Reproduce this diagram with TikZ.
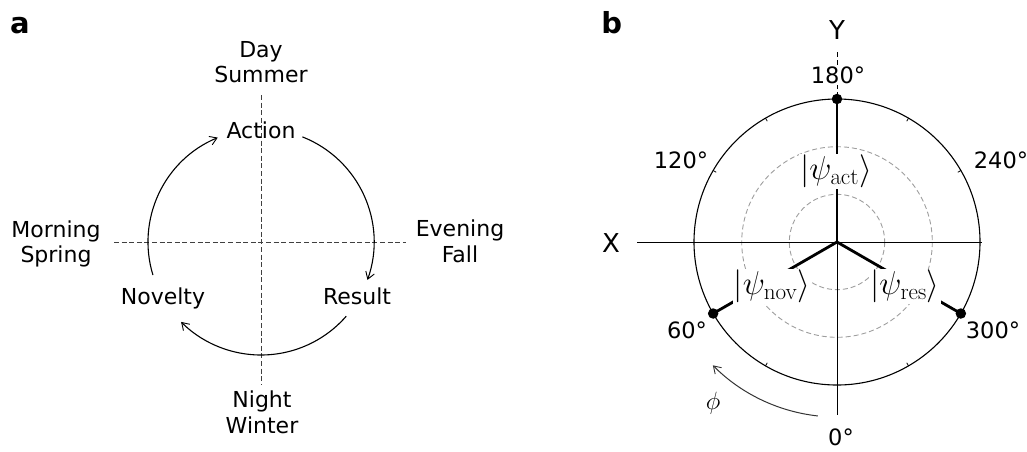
\RequirePackage{fix-cm}
\documentclass[tikz,border=0pt]{standalone}
\usepackage[no-math]{fontspec}
\setmainfont{DejaVu Sans}
\usetikzlibrary{arrows.meta,calc}
\begin{document}
\begin{tikzpicture}[x=1pt,y=-1pt,
  txt/.style={inner sep=0pt,font=\fontsize{22}{25.5}\selectfont},
  two/.style={txt,align=center},
  panel/.style={inner sep=0pt,anchor=base,font=\fontsize{29}{32}\bfseries\selectfont},
  axdash/.style={draw=black!75,line width=0.9pt,dash pattern=on 5pt off 2.6pt},
  cyc/.style={line width=1.1pt,-{Straight Barb[length=7pt,width=9pt,line width=0.9pt]}},
  grid/.style={draw=black!38,line width=0.9pt,dash pattern=on 5pt off 3pt},
  deg/.style={inner sep=0pt,anchor=base,font=\fontsize{22.5}{26}\selectfont},
  axl/.style={inner sep=0pt,anchor=base,font=\fontsize{26}{30}\selectfont},
  state/.style={fill=white,inner sep=1pt,font=\fontsize{33}{38}\selectfont},
  vec/.style={line width=2.8pt},
  dot/.style={circle,fill=black,inner sep=0pt,minimum size=10.5pt}]
\useasboundingbox (0,0) rectangle (1027,451);

% ---------- panel a ----------
\node[panel] (la) at (20,33) {a};
\coordinate (ca) at (261,242);
\draw[axdash] (261,95) -- (261,385);
\draw[axdash] (114,242) -- (406,242);
\node[two] (day) at (261,62) {Day\\Summer};
\node[two] (morn) at (56,244) {Morning\\Spring};
\node[two] (eve) at (460,241.5) {Evening\\Fall};
\node[two] (night) at (262,412.5) {Night\\Winter};
\node[txt,anchor=base] (act) at (261,138) {Action};
\node[txt,anchor=base] (nov) at (163,304) {Novelty};
\node[txt,anchor=base] (res) at (357,304) {Result};
\draw[cyc] ($(ca)+(-68.5:113)$) arc[start angle=-68.5,end angle=19.6,radius=113];
\draw[cyc] ($(ca)+(41:113)$) arc[start angle=41,end angle=135,radius=113];
\draw[cyc] ($(ca)+(163:113)$) arc[start angle=163,end angle=247.5,radius=113];

% ---------- panel b ----------
\node[panel] (lb) at (611.7,33) {b};
\coordinate (cb) at (837,242);
\draw[grid] (cb) circle[radius=47.7];
\draw[grid] (cb) circle[radius=95.3];
\draw[line width=1.1pt] (cb) circle[radius=143];
\foreach \a in {0,30,...,330} \draw[line width=0.8pt] ($(cb)+(\a:143)$) -- ($(cb)+(\a:139.5)$);
\draw[line width=0.9pt] (637,242) -- (982,242);
\draw[line width=0.9pt] (837,99) -- (837,415);
\draw[line width=0.9pt,dash pattern=on 5pt off 3pt] (837,52) -- (837,99);
\coordinate (pa) at ($(cb)+(270:143)$);
\coordinate (pn) at ($(cb)+(150:143)$);
\coordinate (pr) at ($(cb)+(30:143)$);
\draw[vec] (cb) -- (pa);
\draw[vec] (cb) -- (pn);
\draw[vec] (cb) -- (pr);
\node[state] (sa) at (836,171) {$|\psi_{\mathrm{act}}\rangle$};
\node[state] (sn) at (772,286) {$|\psi_{\mathrm{nov}}\rangle$};
\node[state] (sr) at (905,286) {$|\psi_{\mathrm{res}}\rangle$};
\node[dot] (da) at (pa) {};
\node[dot] (dn) at (pn) {};
\node[dot] (dr) at (pr) {};
\node[axl] (Y) at (837,39) {Y};
\node[axl] (X) at (611,252) {X};
\node[deg,fill=white,inner sep=1pt] (d180) at (838,83.3) {180°};
\node[deg] (d120) at (681,168) {120°};
\node[deg] (d240) at (1001,168) {240°};
\node[deg] (d60) at (687,338) {60°};
\node[deg] (d300) at (993,338) {300°};
\node[deg] (d0) at (841,445) {0°};
\node[inner sep=0pt,anchor=base,font=\fontsize{25}{30}\selectfont] (phi) at (713,409) {$\phi$};
\draw[draw=black!80,line width=1pt,-{Straight Barb[length=7pt,width=9pt,line width=0.9pt]}]
  ($(cb)+(96.3:175)$) arc[start angle=96.3,end angle=135.2,radius=175];
\end{tikzpicture}
\end{document}
